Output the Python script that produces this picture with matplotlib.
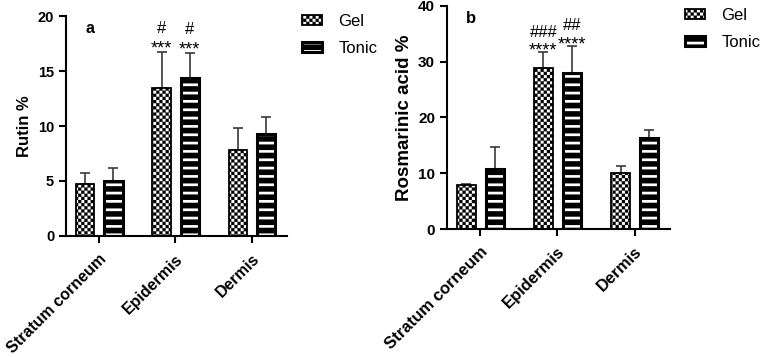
import numpy as np
import matplotlib
matplotlib.use("Agg")
import matplotlib.pyplot as plt
from matplotlib import hatch as mhatch
from matplotlib.path import Path

layers = ["Stratum corneum", "Epidermis", "Dermis"]

rutin_gel = [4.7, 13.5, 7.85]
rutin_gel_err = [1.05, 3.2, 1.95]
rutin_tonic = [5.0, 14.35, 9.25]
rutin_tonic_err = [1.15, 2.25, 1.55]

ros_gel = [7.85, 28.8, 10.0]
ros_gel_err = [0.15, 2.9, 1.3]
ros_tonic = [10.8, 28.0, 16.4]
ros_tonic_err = [3.9, 4.8, 1.4]

# significance marks above the epidermis bars (gel, tonic)
rutin_marks = [("#", "***"), ("#", "***")]
ros_marks = [("###", "****"), ("##", "****")]


class CheckerHatch(mhatch.HatchPatternBase):
    # checkerboard fill, hooked on '*'
    filled = True

    def __init__(self, hatch, density):
        self.n = 16 if '*' in hatch else 0
        self.num_vertices = self.n * self.n * 2 * 5

    def set_vertices_and_codes(self, vertices, codes):
        step = 1.0 / (2 * self.n)
        k = 0
        for i in range(2 * self.n):
            for j in range(2 * self.n):
                if (i + j) % 2:
                    continue
                x0, y0 = i * step, j * step
                vertices[k:k + 5] = [(x0, y0), (x0 + step, y0), (x0 + step, y0 + step),
                                     (x0, y0 + step), (x0, y0)]
                codes[k] = Path.MOVETO
                codes[k + 1:k + 4] = Path.LINETO
                codes[k + 4] = Path.CLOSEPOLY
                k += 5


class StripeHatch(mhatch.HatchPatternBase):
    # thick horizontal bands, hooked on '.'
    filled = True

    def __init__(self, hatch, density):
        self.n = 12 if '.' in hatch else 0
        self.num_vertices = self.n * 5

    def set_vertices_and_codes(self, vertices, codes):
        step = 1.0 / self.n
        h = step * 0.66
        for i in range(self.n):
            y0 = i * step
            k = i * 5
            vertices[k:k + 5] = [(-0.01, y0), (1.01, y0), (1.01, y0 + h),
                                 (-0.01, y0 + h), (-0.01, y0)]
            codes[k] = Path.MOVETO
            codes[k + 1:k + 4] = Path.LINETO
            codes[k + 4] = Path.CLOSEPOLY


mhatch._hatch_types = [CheckerHatch if t is mhatch.Stars else
                       StripeHatch if t is mhatch.SmallFilledCircles else t
                       for t in mhatch._hatch_types]

plt.rcParams['font.family'] = 'Liberation Sans'
plt.rcParams['hatch.linewidth'] = 0.1


def panel(ax, gel, gel_err, tonic, tonic_err, ymax, ystep, ylabel, ylabel_fs, letter,
          marks, mark_offsets, legend_anchor, fs):
    x = np.arange(len(layers))
    xg = x - 0.18
    xt = x + 0.19
    ax.errorbar(xg, gel, yerr=[np.zeros(3), gel_err], fmt='none', ecolor='#3a3a3a',
                elinewidth=1.2, capsize=3.5, capthick=1.2, zorder=1)
    ax.errorbar(xt, tonic, yerr=[np.zeros(3), tonic_err], fmt='none', ecolor='#3a3a3a',
                elinewidth=1.2, capsize=3.5, capthick=1.2, zorder=1)
    ax.bar(xg, gel, 0.24, color='white', edgecolor='black', linewidth=1.3,
           hatch='*', label='Gel', zorder=2)
    ax.bar(xt, tonic, 0.24, color='white', edgecolor='black', linewidth=2.2,
           hatch='.', label='Tonic', zorder=2)

    star_off, hash_off = mark_offsets
    for xpos, val, err, (hashes, stars) in zip([xg[1], xt[1]], [gel[1], tonic[1]],
                                               [gel_err[1], tonic_err[1]], marks):
        top = val + err
        ax.annotate(stars, (xpos, top), xytext=(0, star_off), textcoords='offset points',
                    ha='center', va='center', fontsize=13)
        ax.annotate(hashes, (xpos, top), xytext=(0, hash_off), textcoords='offset points',
                    ha='center', va='center', fontsize=12)

    ax.set_xlim(-0.43, 2.46)
    ax.set_ylim(0, ymax)
    ax.set_yticks(np.arange(0, ymax + 1, ystep))
    ax.set_xticks(x)
    ax.set_xticklabels(layers, rotation=45, ha='right', rotation_mode='anchor',
                       fontweight='bold', fontsize=fs + 1)
    for lab in ax.get_yticklabels():
        lab.set_fontweight('bold')
        lab.set_fontsize(fs)
    ax.set_ylabel(ylabel, fontweight='bold', fontsize=ylabel_fs)
    ax.spines['top'].set_visible(False)
    ax.spines['right'].set_visible(False)
    ax.spines['left'].set_linewidth(1.5)
    ax.spines['bottom'].set_linewidth(1.5)
    ax.tick_params(width=1.5, length=5)
    ax.tick_params(axis='x', pad=6)
    ax.text(0.11, 0.945, letter, transform=ax.transAxes, fontweight='bold',
            fontsize=fs + 1, ha='center', va='center')
    ax.legend(loc='upper left', bbox_to_anchor=legend_anchor,
              bbox_transform=ax.figure.transFigure, frameon=False, fontsize=12,
              handlelength=1.2, handleheight=0.55, handletextpad=1.0,
              labelspacing=0.75, borderpad=0, borderaxespad=0)


fig = plt.figure(figsize=(7.64, 3.57), dpi=100)
ax1 = fig.add_axes([0.0864, 0.339, 0.289, 0.616])
ax2 = fig.add_axes([0.585, 0.3585, 0.292, 0.625])

panel(ax1, rutin_gel, rutin_gel_err, rutin_tonic, rutin_tonic_err, 20, 5,
      "Rutin %", 12, "a", rutin_marks, (2.6, 17), (0.395, 0.962), 10.5)
panel(ax2, ros_gel, ros_gel_err, ros_tonic, ros_tonic_err, 40, 10,
      "Rosmarinic acid %", 13.5, "b", ros_marks, (0.6, 14.5), (0.896, 0.978), 11)

fig.savefig("out.png", dpi=100)
